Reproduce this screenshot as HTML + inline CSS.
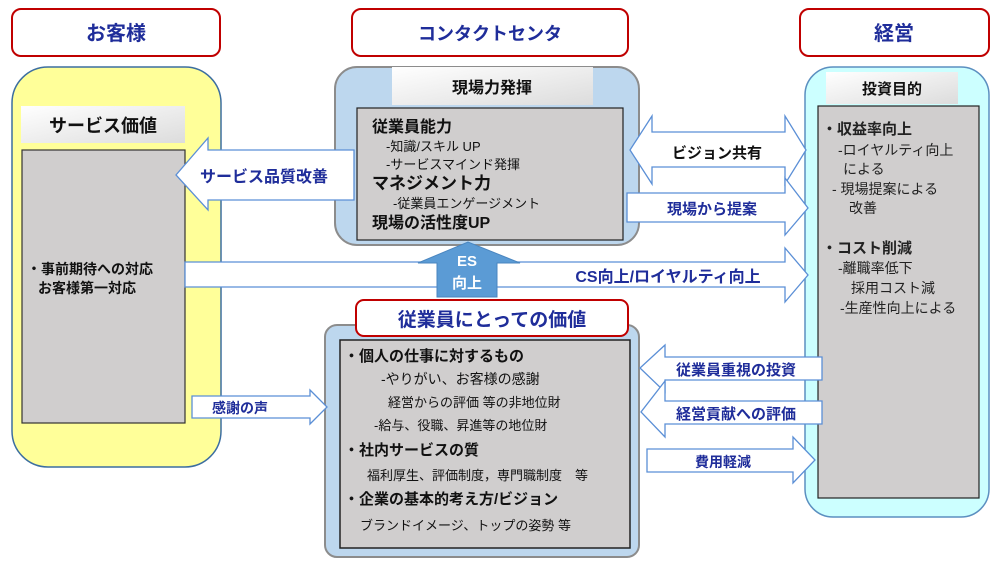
<!DOCTYPE html>
<html><head><meta charset="utf-8"><style>
body{margin:0;background:#fff}
svg{display:block}
text{font-family:"Liberation Sans","Noto Sans CJK JP",sans-serif;font-weight:bold}
.n{font-weight:normal}
</style></head><body>
<svg width="1000" height="570" viewBox="0 0 1000 570" xmlns="http://www.w3.org/2000/svg">
<defs>
<linearGradient id="hg" x1="0" y1="0" x2="1" y2="1"><stop offset="0" stop-color="#ffffff"/><stop offset="1" stop-color="#dcdcdc"/></linearGradient>
</defs>
<rect x="12" y="9" width="208" height="47" rx="9" fill="#fff" stroke="#c00000" stroke-width="2"/>
<text x="116" y="40" font-size="20" fill="#1f2d9a" text-anchor="middle">お客様</text>
<rect x="352" y="9" width="276" height="47" rx="9" fill="#fff" stroke="#c00000" stroke-width="2"/>
<text x="490" y="40" font-size="18" fill="#1f2d9a" text-anchor="middle">コンタクトセンタ</text>
<rect x="800" y="9" width="189" height="47" rx="9" fill="#fff" stroke="#c00000" stroke-width="2"/>
<text x="894" y="40" font-size="20" fill="#1f2d9a" text-anchor="middle">経営</text>

<rect x="12" y="67" width="209" height="400" rx="36" fill="#ffff99" stroke="#3c6ea0" stroke-width="1.5"/>
<rect x="21" y="106" width="164" height="37" fill="url(#hg)"/>
<text x="103" y="132" font-size="18" fill="#111" text-anchor="middle">サービス価値</text>
<rect x="22" y="150" width="163" height="273" fill="#d0cece" stroke="#333" stroke-width="1.2"/>
<text x="27" y="274" font-size="14" fill="#111">・事前期待への対応</text>
<text x="38" y="293" font-size="14" fill="#111">お客様第一対応</text>

<rect x="335" y="67" width="304" height="178" rx="22" fill="#bdd7ee" stroke="#8c8c8c" stroke-width="2"/>
<rect x="392" y="67" width="201" height="38" fill="url(#hg)"/>
<text x="492" y="93" font-size="16" fill="#111" text-anchor="middle">現場力発揮</text>
<rect x="357" y="108" width="266" height="132" fill="#d0cece" stroke="#222" stroke-width="1.2"/>
<g fill="#111">
<text x="372" y="132" font-size="16">従業員能力</text>
<text x="386" y="151" font-size="13" class="n">-知識/スキル UP</text>
<text x="386" y="169" font-size="13" class="n">-サービスマインド発揮</text>
<text x="372" y="189" font-size="17">マネジメント力</text>
<text x="393" y="208" font-size="13" class="n">-従業員エンゲージメント</text>
<text x="372" y="228" font-size="16">現場の活性度UP</text>
</g>

<rect x="805" y="67" width="184" height="450" rx="28" fill="#ccffff" stroke="#5b8fc0" stroke-width="1.5"/>
<rect x="826" y="72" width="132" height="32" fill="url(#hg)"/>
<text x="892" y="94" font-size="15" fill="#111" text-anchor="middle">投資目的</text>
<rect x="818" y="106" width="161" height="392" fill="#d0cece" stroke="#222" stroke-width="1.2"/>
<g fill="#222">
<text x="822" y="134" font-size="15">・収益率向上</text>
<text x="838" y="155" font-size="14" class="n">-ロイヤルティ向上</text>
<text x="843" y="174" font-size="14" class="n">による</text>
<text x="832" y="194" font-size="14" class="n">- 現場提案による</text>
<text x="849" y="213" font-size="14" class="n">改善</text>
<text x="822" y="253" font-size="15">・コスト削減</text>
<text x="838" y="273" font-size="14" class="n">-離職率低下</text>
<text x="851" y="293" font-size="14" class="n">採用コスト減</text>
<text x="840" y="313" font-size="14" class="n">-生産性向上による</text>
</g>

<rect x="325" y="325" width="314" height="232" rx="12" fill="#bdd7ee" stroke="#8c8c8c" stroke-width="2"/>
<rect x="340" y="340" width="290" height="208" fill="#d0cece" stroke="#222" stroke-width="1.5"/>
<rect x="356" y="300" width="272" height="36" rx="8" fill="#fff" stroke="#c00000" stroke-width="2"/>
<text x="492" y="326" font-size="19" fill="#1f2d9a" text-anchor="middle">従業員にとっての価値</text>
<g fill="#111">
<text x="344" y="361" font-size="15">・個人の仕事に対するもの</text>
<text x="381" y="384" font-size="14" class="n">-やりがい、お客様の感謝</text>
<text x="388" y="407" font-size="13" class="n">経営からの評価 等の非地位財</text>
<text x="374" y="430" font-size="13" class="n">-給与、役職、昇進等の地位財</text>
<text x="344" y="455" font-size="15">・社内サービスの質</text>
<text x="367" y="480" font-size="13" class="n">福利厚生、評価制度，専門職制度　等</text>
<text x="344" y="504" font-size="15">・企業の基本的考え方/ビジョン</text>
<text x="360" y="530" font-size="13" class="n">ブランドイメージ、トップの姿勢 等</text>
</g>

<g fill="#fff" stroke="#5b8fd6" stroke-width="1.3">
<polygon points="354,150 208,150 208,138 176,175 208,210 208,200 354,200"/>
<polygon points="185,262 785,262 785,248 808,275 785,302 785,287 185,287"/>
<polygon points="630,150 652,116 652,132 785,132 785,116 806,150 785,184 785,167 652,167 652,184"/>
<polygon points="627,193 785,193 785,178 808,208 785,235 785,222 627,222"/>
<polygon points="192,396 310,396 310,390 327,407 310,424 310,418 192,418"/>
<polygon points="822,357 665,357 665,345 640,368 665,392 665,380 822,380"/>
<polygon points="822,401 665,401 665,381 641,412 665,437 665,424 822,424"/>
<polygon points="647,449 793,449 793,437 815,460 793,483 793,472 647,472"/>
</g>
<g fill="#1f2d9a" font-size="15">
<text x="264" y="182" text-anchor="middle" font-size="16">サービス品質改善</text>
<text x="668" y="282" text-anchor="middle" font-size="16">CS向上/ロイヤルティ向上</text>
<text x="712" y="214" text-anchor="middle">現場から提案</text>
<text x="240" y="413" text-anchor="middle" font-size="14">感謝の声</text>
<text x="736" y="375" text-anchor="middle">従業員重視の投資</text>
<text x="736" y="419" text-anchor="middle">経営貢献への評価</text>
<text x="723" y="467" text-anchor="middle" font-size="14">費用軽減</text>
</g>
<text x="717" y="158" font-size="15" fill="#111" text-anchor="middle">ビジョン共有</text>

<polygon points="437,297 437,263 418,263 468,242 520,263 497,263 497,297" fill="#5b9bd5" stroke="#4a86c0" stroke-width="1"/>
<text x="467" y="266" font-size="15" fill="#fff" text-anchor="middle">ES</text>
<text x="467" y="288" font-size="15" fill="#fff" text-anchor="middle">向上</text>
</svg>
</body></html>
